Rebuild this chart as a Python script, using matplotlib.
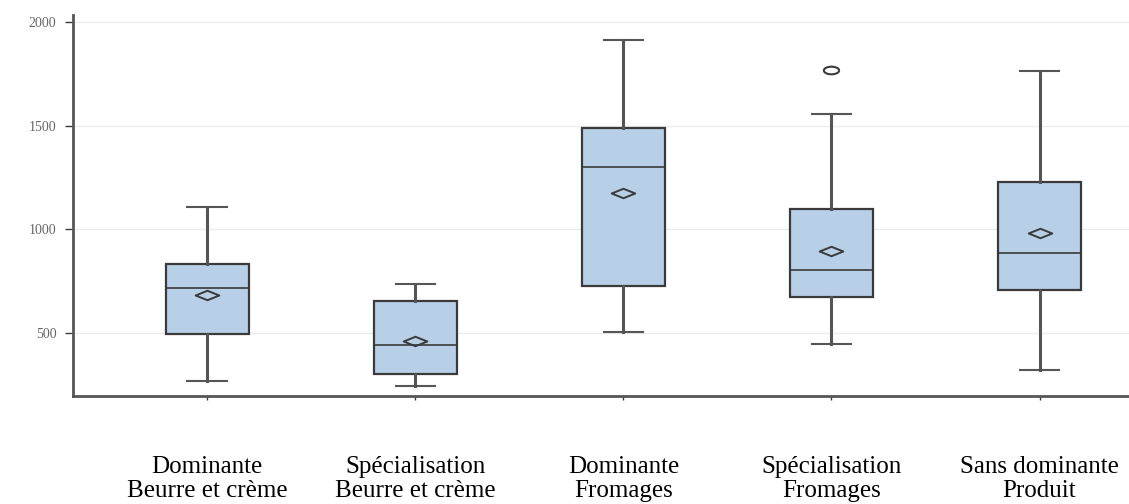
import numpy as np
import matplotlib.pyplot as plt
from matplotlib.path import Path

labels = ["Dominante\nBeurre et crème", "Spécialisation\nBeurre et crème",
          "Dominante\nFromages", "Spécialisation\nFromages", "Sans dominante\nProduit"]
whis_low = [270, 242, 507, 449, 319]
q1 = [497, 304, 725, 672, 705]
medians = [715, 444, 1300, 802, 884]
q3 = [831, 652, 1488, 1097, 1227]
whis_high = [1106, 734, 1915, 1556, 1763]
means = [681, 459, 1174, 894, 981]
outliers = [[], [], [], [1768], []]

stats = []
for i in range(len(labels)):
    stats.append(dict(whislo=whis_low[i], q1=q1[i], med=medians[i], q3=q3[i],
                      whishi=whis_high[i], mean=means[i], fliers=outliers[i]))

edge = "#3a3a3a"
# wide flat diamond for the mean, flat ellipse for outliers
diamond = Path([(-1, 0), (0, 0.4), (1, 0), (0, -0.4), (-1, 0)],
               [Path.MOVETO, Path.LINETO, Path.LINETO, Path.LINETO, Path.CLOSEPOLY])
t = np.linspace(0, 2 * np.pi, 40)
ellipse = Path(np.column_stack([np.cos(t), 0.5 * np.sin(t)]))

fig = plt.figure(figsize=(11.29, 5.04), dpi=100)
ax = fig.add_axes([0.0647, 0.214, 0.9353, 0.756])

pos = np.arange(len(labels))
ax.bxp(stats, positions=pos, widths=0.4, patch_artist=True, showmeans=True,
       boxprops=dict(facecolor="#b8cfe8", edgecolor=edge, linewidth=1.6),
       medianprops=dict(color=edge, linewidth=1.2),
       whiskerprops=dict(color="#555555", linewidth=2.2),
       capprops=dict(color="#555555", linewidth=1.5),
       capwidths=0.19,
       meanprops=dict(marker=diamond, markersize=17, markerfacecolor="none",
                      markeredgecolor=edge, markeredgewidth=1.4),
       flierprops=dict(marker=ellipse, markersize=11, markerfacecolor="none",
                       markeredgecolor=edge, markeredgewidth=1.5))

ax.set_xlim(-0.645, 4.43)
ax.set_ylim(195, 2034)
ax.set_yticks([500, 1000, 1500, 2000])
ax.yaxis.grid(True, color="#ececec", linewidth=1)
ax.set_axisbelow(True)

ax.set_xticks(pos)
ax.set_xticklabels(labels, family="Liberation Serif", fontsize=18, linespacing=1.1)
ax.tick_params(axis="x", length=3, width=1, color=edge, pad=40)
ax.tick_params(axis="y", length=6, width=1, color=edge, pad=6, labelsize=10, labelcolor="#666666")
for lab in ax.get_yticklabels():
    lab.set_family("Liberation Serif")

for s in ["top", "right"]:
    ax.spines[s].set_visible(False)
for s in ["left", "bottom"]:
    ax.spines[s].set_color("#555555")
    ax.spines[s].set_linewidth(2)

fig.savefig("out.png", dpi=100)
